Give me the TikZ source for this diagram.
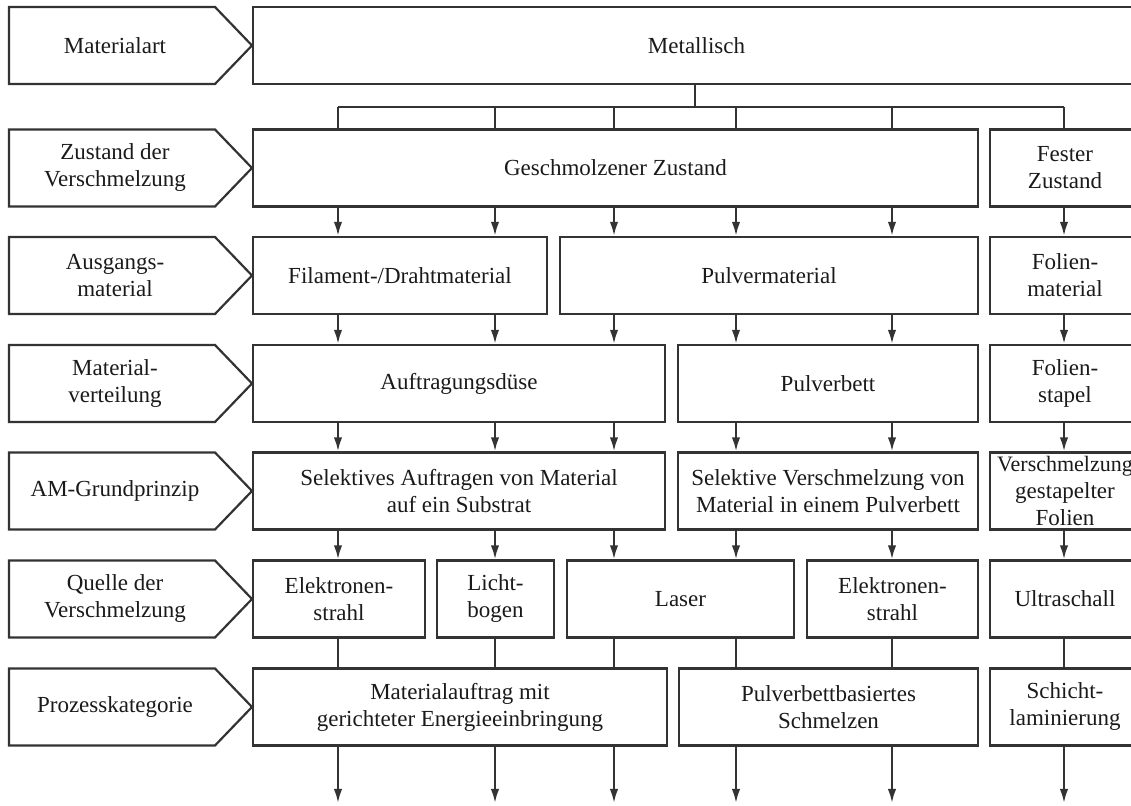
\documentclass[tikz,border=0pt]{standalone}
\usepackage{fontspec}
\setmainfont{Liberation Serif}
\usetikzlibrary{arrows.meta}
\definecolor{linec}{HTML}{333333}
\definecolor{textc}{HTML}{1A1A1A}
\tikzset{
  every picture/.style={line join=miter, >={Latex[length=7pt,width=4.2pt]}},
  cell/.style={draw=linec, line width=1.1pt, minimum height=38.5pt, inner sep=0pt, align=center, text=textc, font=\fontsize{11.5}{13.5}\selectfont},
  lbl/.style={draw=linec, line width=1.1pt},
  lbltext/.style={align=center, text=textc, font=\fontsize{11.5}{13.5}\selectfont},
  link/.style={draw=linec, line width=1.1pt},
  arr/.style={link, ->},
}
\newcommand{\amcell}[5]{\node[cell, minimum width={(#3-#2)*0.5pt}] (#1) at ({(#2+#3)/2},#4) {#5};}
\newcommand{\amlabel}[3]{%
  \draw[lbl] (9,{#1-38.5}) -- (215,{#1-38.5}) -- (252,#1) -- (215,{#1+38.5}) -- (9,{#1+38.5}) -- cycle;
  \node[lbltext] (#2) at (115,#1) {#3};}

\begin{document}
\begin{tikzpicture}[x=0.5pt,y=-0.5pt]
\useasboundingbox (0,0) rectangle (1131,806);
\amlabel{45.5}{lMat}{Materialart}
\amlabel{168}{lZus}{Zustand der\\Verschmelzung}
\amlabel{275.5}{lAus}{Ausgangs-\\material}
\amlabel{383.5}{lVer}{Material-\\verteilung}
\amlabel{491}{lAM}{AM-Grundprinzip}
\amlabel{599}{lQue}{Quelle der\\Verschmelzung}
\amlabel{707}{lPro}{Prozesskategorie}
\amcell{met}{253}{1140}{45.5}{Metallisch}
\amcell{geschm}{253}{978}{168}{Geschmolzener Zustand}
\amcell{fest}{990}{1140}{168}{Fester\\Zustand}
\amcell{fil}{253}{547}{275.5}{Filament-/Drahtmaterial}
\amcell{pulm}{560}{978}{275.5}{Pulvermaterial}
\amcell{folm}{990}{1140}{275.5}{Folien-\\material}
\amcell{duse}{253}{665}{383.5}{Auftragungsdüse}
\amcell{bett}{678}{978}{383.5}{Pulverbett}
\amcell{fols}{990}{1140}{383.5}{Folien-\\stapel}
\amcell{selauf}{253}{665}{491}{Selektives Auftragen von Material\\auf ein Substrat}
\amcell{selver}{678}{978}{491}{Selektive Verschmelzung von\\Material in einem Pulverbett}
\amcell{gest}{990}{1140}{491}{\fontsize{11}{13}\selectfont Verschmelzung\\gestapelter\\Folien}
\amcell{elek}{253}{425}{599}{Elektronen-\\strahl}
\amcell{licht}{437}{554}{599}{Licht-\\bogen}
\amcell{laser}{567}{794}{599}{Laser}
\amcell{elekb}{807}{978}{599}{Elektronen-\\strahl}
\amcell{ultra}{990}{1140}{599}{Ultraschall}
\amcell{ded}{253}{667}{707}{Materialauftrag mit\\gerichteter Energieeinbringung}
\amcell{pbf}{679}{978}{707}{Pulverbettbasiertes\\Schmelzen}
\amcell{schicht}{990}{1140}{707}{Schicht-\\laminierung}
\coordinate (k1) at (338,0);
\coordinate (k2) at (495,0);
\coordinate (k3) at (614,0);
\coordinate (k4) at (736,0);
\coordinate (k5) at (892,0);
\coordinate (k6) at (1064,0);
\coordinate (bus) at (695,107);
\coordinate (bot) at (0,803);
\draw[link] (met.south -| bus) -- (bus);
\draw[link] (k1 |- bus) -- (k6 |- bus);
\foreach \k/\b in {k1/geschm, k2/geschm, k3/geschm, k4/geschm, k5/geschm, k6/fest}
  \draw[link] (\k |- bus) -- (\k |- \b.north);
\foreach \k/\a/\b in {k1/geschm/fil, k2/geschm/fil, k3/geschm/pulm, k4/geschm/pulm, k5/geschm/pulm, k6/fest/folm,
    k1/fil/duse, k2/fil/duse, k3/pulm/duse, k4/pulm/bett, k5/pulm/bett, k6/folm/fols,
    k1/duse/selauf, k2/duse/selauf, k3/duse/selauf, k4/bett/selver, k5/bett/selver, k6/fols/gest,
    k1/selauf/elek, k2/selauf/licht, k3/selauf/laser, k4/selver/laser, k5/selver/elekb, k6/gest/ultra}
  \draw[arr] (\k |- \a.south) -- (\k |- \b.north);
\foreach \k/\a/\b in {k1/elek/ded, k2/licht/ded, k3/laser/ded, k4/laser/pbf, k5/elekb/pbf, k6/ultra/schicht}
  \draw[link] (\k |- \a.south) -- (\k |- \b.north);
\foreach \k/\a in {k1/ded, k2/ded, k3/ded, k4/pbf, k5/pbf, k6/schicht}
  \draw[arr] (\k |- \a.south) -- (\k |- bot);
\end{tikzpicture}
\end{document}
